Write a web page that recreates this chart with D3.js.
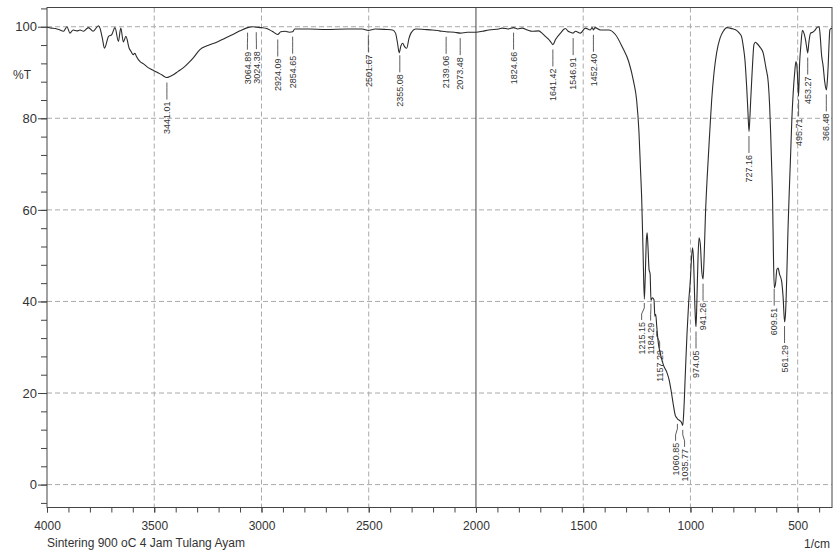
<!DOCTYPE html>
<html>
<head>
<meta charset="utf-8">
<script src="https://cdn.jsdelivr.net/npm/d3@7"></script>
<style>
  body { margin: 0; background: #fff; }
  text { font-family: "Liberation Sans", Arial, sans-serif; fill: #333; }
</style>
</head>
<body>
<div id="canvas"></div>
<script>
// spectrum (wavenumber in 1/cm, transmittance in %T)
var wavenumber = [
  4000, 3980, 3962, 3945, 3923, 3907, 3893, 3878, 3860, 3846,
  3830, 3807, 3785, 3760, 3753, 3742, 3732, 3713, 3698, 3683,
  3667, 3656, 3644, 3632, 3617, 3608, 3598, 3590, 3583, 3566,
  3550, 3535, 3510, 3489, 3465, 3441, 3425, 3411, 3390, 3365,
  3340, 3318, 3287, 3250, 3209, 3170, 3133, 3100, 3065, 3040,
  3024, 3000, 2976, 2950, 2924, 2910, 2890, 2870, 2855, 2845,
  2780, 2700, 2600, 2530, 2502, 2470, 2420, 2389, 2375, 2366,
  2358, 2350, 2342, 2332, 2323, 2312, 2303, 2280, 2240, 2203,
  2170, 2139, 2100, 2073, 2040, 2000, 1970, 1940, 1893, 1878,
  1850, 1825, 1805, 1785, 1760, 1738, 1707, 1690, 1676, 1660,
  1650, 1641, 1629, 1606, 1583, 1570, 1560, 1547, 1536, 1513,
  1490, 1467, 1458, 1452, 1445, 1420, 1381, 1350, 1319, 1288,
  1265, 1251, 1240, 1233, 1227, 1221, 1215, 1211, 1206, 1202,
  1198, 1193, 1188, 1184, 1178, 1170, 1166, 1162, 1157, 1150,
  1140, 1125, 1110, 1100, 1090, 1080, 1070, 1064, 1060, 1050,
  1042, 1036, 1031, 1024, 1016, 1008, 1000, 995, 990, 985,
  980, 976, 974, 970, 965, 960, 954, 947, 941, 936,
  930, 922, 910, 901, 890, 878, 862, 847, 830, 816,
  800, 785, 772, 762, 753, 746, 738, 732, 727, 723,
  719, 715, 709, 704, 697, 691, 675, 661, 648, 637,
  631, 626, 621, 617, 613, 609, 603, 597, 591, 585,
  575, 568, 561, 556, 550, 545, 540, 533, 527, 521,
  514, 508, 503, 499, 496, 491, 485, 478, 470, 463,
  458, 453, 448, 440, 430, 420, 409, 400, 395, 389,
  381, 374, 366, 362, 358, 354, 350, 345, 340
];
var transmittance = [
  99.9, 99.7, 99.6, 99.4, 99.0, 100.0, 98.6, 99.3, 99.1, 99.3,
  99.0, 99.8, 99.0, 100.2, 99.7, 97.5, 95.3, 97.9, 98.3, 99.8,
  96.8, 99.7, 96.7, 97.9, 95.3, 94.6, 93.9, 94.2, 93.5, 92.4,
  91.9, 91.3, 90.6, 90.1, 89.5, 88.9, 89.2, 89.5, 90.2, 91.0,
  92.1, 93.2, 95.0, 95.9, 96.6, 97.5, 98.3, 99.1, 99.8, 100.0,
  99.9, 99.8, 99.6, 99.0, 98.3, 98.9, 99.0, 98.8, 98.9, 99.5,
  99.5, 99.4, 99.5, 99.5, 99.2, 99.5, 99.4, 99.3, 98.6, 96.5,
  94.3, 95.8, 96.4, 95.6, 95.3, 97.5, 98.6, 99.5, 99.4, 99.3,
  99.1, 98.9, 98.8, 98.6, 98.8, 98.8, 99.0, 99.3, 99.5, 99.7,
  99.5, 99.8, 99.5, 99.7, 99.3, 99.0, 99.1, 98.5, 97.9, 97.2,
  96.6, 96.1, 97.2, 98.6, 99.6, 99.0, 98.8, 98.6, 99.0, 98.6,
  99.7, 99.3, 99.8, 99.3, 99.8, 99.3, 99.3, 98.3, 95.7, 92.4,
  88.0, 84.0, 77.0, 69.0, 62.0, 51.0, 40.5, 45.0, 53.0, 55.0,
  52.0, 47.0, 46.0, 40.2, 40.8, 40.4, 36.8, 37.2, 34.5, 31.0,
  28.5, 26.0, 24.5, 23.0, 20.5, 17.5, 15.0, 14.6, 14.3, 14.0,
  13.6, 12.9, 16.0, 24.0, 33.0, 40.0, 45.0, 49.5, 51.7, 48.5,
  40.0, 35.5, 34.5, 40.0, 49.0, 53.9, 52.5, 46.5, 44.9, 50.0,
  59.0, 67.0, 77.0, 84.0, 90.0, 94.3, 97.5, 99.0, 99.8, 99.7,
  99.5, 99.2, 98.6, 97.9, 95.5, 92.8, 87.0, 81.5, 77.1, 80.0,
  84.0, 87.7, 93.0, 96.1, 96.6, 96.4, 95.5, 94.3, 91.0, 87.7,
  83.0, 76.8, 69.0, 62.2, 50.0, 43.0, 44.0, 47.0, 47.3, 46.0,
  44.5, 41.0, 35.5, 38.0, 47.0, 56.0, 63.0, 72.0, 80.0, 85.5,
  90.0, 92.4, 91.0, 87.5, 84.8, 92.0, 96.0, 99.2, 98.5, 97.0,
  95.5, 94.3, 96.5, 98.6, 98.8, 99.2, 99.9, 100.0, 98.0, 94.0,
  91.3, 88.0, 86.2, 88.0, 91.3, 96.0, 99.3, 99.6, 99.6
];

// picked peaks as printed by the instrument
var peakLabels = ["3441.01", "3064.89", "3024.38", "2924.09", "2854.65", "2501.67",
  "2355.08", "2139.06", "2073.48", "1824.66", "1641.42", "1546.91", "1452.40",
  "1215.15", "1184.29", "1157.29", "1060.85", "1035.77", "974.05", "941.26",
  "727.16", "609.51", "561.29", "495.71", "453.27", "366.48"];

var xMajorTicks = [4000, 3500, 3000, 2500, 2000, 1500, 1000, 500];
var yMajorTicks = [0, 20, 40, 60, 80, 100];
var sampleName = "Sintering 900 oC 4 Jam Tulang Ayam";

// set the dimensions and margins of the graph
var margin = { top: 7.5, right: 1, bottom: 46.5, left: 47 },
  width = 833 - margin.left - margin.right,
  height = 554 - margin.top - margin.bottom;

var svg = d3.select("#canvas")
  .append("svg")
  .attr("width", 833)
  .attr("height", 554)
  .append("g")
  .attr("transform", "translate(" + margin.left + "," + margin.top + ")");

var x = d3.scaleLinear().domain([4000, 340]).range([0, width]);
var y = d3.scaleLinear().domain([-5, 104.2]).range([height, 0]);

var data = wavenumber.map(function(w, i) { return { w: w, t: transmittance[i] }; });

// dashed grid
svg.append("g")
  .selectAll("line")
  .data(xMajorTicks.filter(function(d) { return d != 4000 && d != 2000; }))
  .join("line")
  .attr("x1", function(d) { return x(d); })
  .attr("x2", function(d) { return x(d); })
  .attr("y1", 0).attr("y2", height)
  .attr("stroke", "#aaa").attr("stroke-dasharray", "5,3");

svg.append("g")
  .selectAll("line")
  .data(yMajorTicks)
  .join("line")
  .attr("x1", 0).attr("x2", width)
  .attr("y1", function(d) { return y(d); })
  .attr("y2", function(d) { return y(d); })
  .attr("stroke", "#aaa").attr("stroke-dasharray", "5,3");

// solid divider at 2000
svg.append("line")
  .attr("x1", x(2000)).attr("x2", x(2000))
  .attr("y1", 0).attr("y2", height)
  .attr("stroke", "#444");

// frame
svg.append("rect")
  .attr("width", width).attr("height", height)
  .attr("fill", "none").attr("stroke", "#444");

// x axis, minor every 100 then major with labels
var xMinor = d3.range(4000, 339, -100);
svg.append("g")
  .attr("transform", "translate(0," + height + ")")
  .call(d3.axisBottom(x).tickValues(xMinor).tickSize(5).tickFormat(""))
  .call(function(g) { g.select(".domain").remove(); });
svg.append("g")
  .attr("transform", "translate(0," + height + ")")
  .call(d3.axisBottom(x).tickValues(xMajorTicks).tickSize(5).tickPadding(9).tickFormat(d3.format("d")))
  .call(function(g) { g.select(".domain").remove(); })
  .selectAll("text").style("font-size", "12px");

// y axis, minor every 4 then major with labels
var yMinor = d3.range(-4, 105, 4);
svg.append("g")
  .call(d3.axisLeft(y).tickValues(yMinor).tickSize(6).tickFormat(""))
  .call(function(g) { g.select(".domain").remove(); });
svg.append("g")
  .call(d3.axisLeft(y).tickValues(yMajorTicks).tickSize(9).tickPadding(1).tickFormat(d3.format("d")))
  .call(function(g) { g.select(".domain").remove(); })
  .selectAll("text").style("font-size", "13px");

svg.selectAll(".tick line").attr("stroke", "#444");

// the spectrum
svg.append("path")
  .datum(data)
  .attr("fill", "none")
  .attr("stroke", "#2b2b2b")
  .attr("stroke-width", 1.1)
  .attr("d", d3.line()
    .curve(d3.curveMonotoneX)
    .x(function(d) { return x(d.w); })
    .y(function(d) { return y(d.t); }));

// transmittance at a given wavenumber (linear between read points)
function curveAt(w) {
  for (var i = 0; i < data.length - 1; i++) {
    if (w <= data[i].w && w >= data[i + 1].w) {
      var f = (data[i].w - w) / (data[i].w - data[i + 1].w);
      return data[i].t + f * (data[i + 1].t - data[i].t);
    }
  }
  return 100;
}

// peak labels, nudged apart where they would collide
var peaks = peakLabels.map(function(s) {
  var w = +s;
  return { label: s, px: x(w), tx: x(w), py: y(curveAt(w)) };
});
for (var it = 0; it < 30; it++) {
  for (var i = 0; i < peaks.length - 1; i++) {
    var a = peaks[i], b = peaks[i + 1];
    var gap = b.tx - a.tx;
    if (gap < 9 && Math.abs(a.py - b.py) < 40) {
      var push = (9 - gap) / 2;
      a.tx -= push;
      b.tx += push;
    }
  }
}

var lab = svg.append("g");
peaks.forEach(function(p) {
  var y0 = p.py + 5;
  lab.append("path")
    .attr("d", d3.line()([[p.px, y0], [p.px, y0 + 5], [p.tx, y0 + 11], [p.tx, y0 + 17]]))
    .attr("fill", "none")
    .attr("stroke", "#333")
    .attr("stroke-width", 0.8);
  lab.append("text")
    .attr("transform", "translate(" + p.tx + "," + (y0 + 19) + ") rotate(-90)")
    .attr("text-anchor", "end")
    .attr("dy", "0.35em")
    .style("font-size", "9px")
    .text(p.label);
});

// axis captions
svg.append("text")
  .attr("x", -16).attr("y", y(89.5))
  .attr("dy", "0.35em")
  .attr("text-anchor", "end")
  .style("font-size", "12px")
  .text("%T");

svg.append("text")
  .attr("x", width - 2).attr("y", height + 40)
  .attr("text-anchor", "end")
  .style("font-size", "12px")
  .text("1/cm");

svg.append("text")
  .attr("x", 0).attr("y", height + 39)
  .style("font-size", "12px")
  .text(sampleName);
</script>
</body>
</html>
